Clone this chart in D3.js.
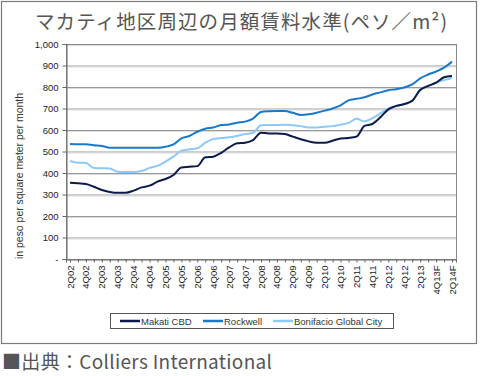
<!DOCTYPE html>
<html>
<head>
<meta charset="utf-8">
<script src="https://cdn.jsdelivr.net/npm/d3@7"></script>
<style>
  body { margin: 0; background: #fff; }
  svg { display: block; }
</style>
</head>
<body>
<div id="chart-area"></div>
<script>
// quarterly categories 2Q02 .. 2Q14F
var quarters = ['2Q02','3Q02','4Q02','1Q03','2Q03','3Q03','4Q03','1Q04','2Q04','3Q04','4Q04',
  '1Q05','2Q05','3Q05','4Q05','1Q06','2Q06','3Q06','4Q06','1Q07','2Q07','3Q07','4Q07',
  '1Q08','2Q08','3Q08','4Q08','1Q09','2Q09','3Q09','4Q09','1Q10','2Q10','3Q10','4Q10',
  '1Q11','2Q11','3Q11','4Q11','1Q12','2Q12','3Q12','4Q12','1Q13','2Q13','3Q13F','4Q13F',
  '1Q14F','2Q14F'];

var makati = [355,352,349,336,321,312,308,308,318,333,341,360,372,391,426,429,432,473,476,494,
  519,538,541,553,587,584,584,581,569,557,547,541,541,550,561,563,569,619,628,659,
  696,712,721,736,786,805,820,845,851];
var rockwell = [535,534,534,529,526,518,518,518,518,518,518,518,522,533,561,572,592,606,612,623,
  626,634,639,653,684,687,688,688,680,670,673,680,690,700,715,738,745,752,765,775,
  785,790,798,812,840,858,872,890,918];
var bonifacio = [456,448,447,423,422,421,406,405,405,409,424,433,453,476,504,510,515,541,558,563,
  566,572,581,587,622,623,623,625,622,618,612,612,615,618,625,633,652,640,655,677,
  700,712,720,735,789,805,820,832,842];

var seriesNames = ['Makati CBD', 'Rockwell', 'Bonifacio Global City'];
var yTicks = [0, 100, 200, 300, 400, 500, 600, 700, 800, 900, 1000];

var colors = ['#0c1a48', '#1a78c8', '#8ec9f6'];

var W = 480, H = 376;
var margin = { top: 44, right: 24, bottom: 117, left: 66 },
  width = W - margin.left - margin.right,
  height = H - margin.top - margin.bottom;

var labelFont = 'Arial, "Liberation Sans", sans-serif';

var svg = d3.select('#chart-area')
  .append('svg')
    .attr('width', W)
    .attr('height', H);

// outer frame
svg.append('rect')
  .attr('x', 1.5).attr('y', 1.5)
  .attr('width', 475).attr('height', 342)
  .attr('fill', 'none')
  .attr('stroke', '#7a7a7a')
  .attr('stroke-width', 1.2);

svg.append('text')
  .attr('x', 35).attr('y', 29)
  .attr('font-family', '"Noto Sans CJK JP", sans-serif')
  .attr('font-size', '19.5px')
  .attr('textLength', 412)
  .attr('lengthAdjust', 'spacing')
  .attr('fill', '#555')
  .text('マカティ地区周辺の月額賃料水準(ペソ／m²)');

svg.append('text')
  .attr('x', 2).attr('y', 369)
  .attr('font-family', '"Noto Sans CJK JP", sans-serif')
  .attr('font-size', '19px')
  .attr('textLength', 270)
  .attr('lengthAdjust', 'spacing')
  .attr('fill', '#555')
  .text('■出典：Colliers International');

var g = svg.append('g')
  .attr('transform', 'translate(' + margin.left + ',' + margin.top + ')');

var xScale = d3.scalePoint()
  .domain(quarters)
  .range([0, width])
  .padding(0.5);

var yScale = d3.scaleLinear()
  .domain([0, 1000])
  .range([height, 0]);

// gridlines
g.selectAll('.grid')
  .data(yTicks.slice(1))
  .enter().append('line')
    .attr('x1', 0).attr('x2', width)
    .attr('y1', d => yScale(d) + 0.5).attr('y2', d => yScale(d) + 0.5)
    .attr('stroke', '#9a9a9a')
    .attr('stroke-width', 1);
g.selectAll('.grid2')
  .data(yTicks.slice(1))
  .enter().append('line')
    .attr('x1', 0).attr('x2', width)
    .attr('y1', d => yScale(d) + 1.5).attr('y2', d => yScale(d) + 1.5)
    .attr('stroke', '#dcdcdc')
    .attr('stroke-width', 1);

// plot frame
g.append('rect')
  .attr('x', 0.5).attr('y', 0.5)
  .attr('width', width).attr('height', height)
  .attr('fill', 'none')
  .attr('stroke', '#8a8a8a');

// y axis
var yAxisCall = d3.axisLeft(yScale)
  .tickValues(yTicks)
  .tickSize(4)
  .tickFormat(d => d === 0 ? '-' : d3.format(',')(d));
var yAxisGroup = g.append('g')
  .attr('transform', 'translate(0.5,0)')
  .call(yAxisCall);
yAxisGroup.select('.domain').attr('stroke', '#666');
yAxisGroup.selectAll('.tick line').attr('stroke', '#666');
yAxisGroup.selectAll('text')
  .attr('font-family', labelFont)
  .attr('font-size', '9.5px')
  .attr('fill', '#222')
  .attr('x', -8);

// x axis: tick each quarter, label every second
var xAxisCall = d3.axisBottom(xScale)
  .tickSize(3)
  .tickFormat((d, i) => i % 2 === 0 ? d : '');
var xAxisGroup = g.append('g')
  .attr('transform', 'translate(0,' + (height + 0.5) + ')')
  .call(xAxisCall);
xAxisGroup.select('.domain').attr('stroke', '#666');
xAxisGroup.selectAll('.tick line').attr('stroke', '#666');
xAxisGroup.selectAll('text')
  .attr('font-family', labelFont)
  .attr('font-size', '9.5px')
  .attr('fill', '#222')
  .attr('text-anchor', 'end')
  .attr('dy', '0.32em')
  .attr('transform', 'rotate(-90)')
  .attr('x', -6)
  .attr('y', 0);

// y axis title
svg.append('text')
  .attr('transform', 'translate(20,176) rotate(-90)')
  .attr('text-anchor', 'middle')
  .attr('dy', '0.32em')
  .attr('font-family', labelFont)
  .attr('font-size', '10.5px')
  .attr('textLength', 166)
  .attr('lengthAdjust', 'spacingAndGlyphs')
  .attr('fill', '#333')
  .text('in peso per square meter per month');

// lines
var line = d3.line()
  .x((d, i) => xScale(quarters[i]))
  .y(d => yScale(d))
  .curve(d3.curveMonotoneX);

var allSeries = [makati, rockwell, bonifacio];
// draw light first so darker lines sit on top
[2, 1, 0].forEach(k => {
  g.append('path')
    .datum(allSeries[k])
    .attr('d', line)
    .attr('fill', 'none')
    .attr('stroke', colors[k])
    .attr('stroke-width', 2);
});

// legend
var legend = svg.append('g');
legend.append('rect')
  .attr('x', 110.5).attr('y', 313.5)
  .attr('width', 283).attr('height', 15)
  .attr('fill', '#fff')
  .attr('stroke', '#555');
var legendX = [120, 203, 273];
seriesNames.forEach((name, k) => {
  legend.append('line')
    .attr('x1', legendX[k]).attr('x2', legendX[k] + 20)
    .attr('y1', 321).attr('y2', 321)
    .attr('stroke', colors[k])
    .attr('stroke-width', 2.5);
  legend.append('text')
    .attr('x', legendX[k] + 21).attr('y', 324.5)
    .attr('font-family', labelFont)
    .attr('font-size', '9.5px')
    .attr('fill', '#333')
    .text(name);
});
</script>
</body>
</html>
